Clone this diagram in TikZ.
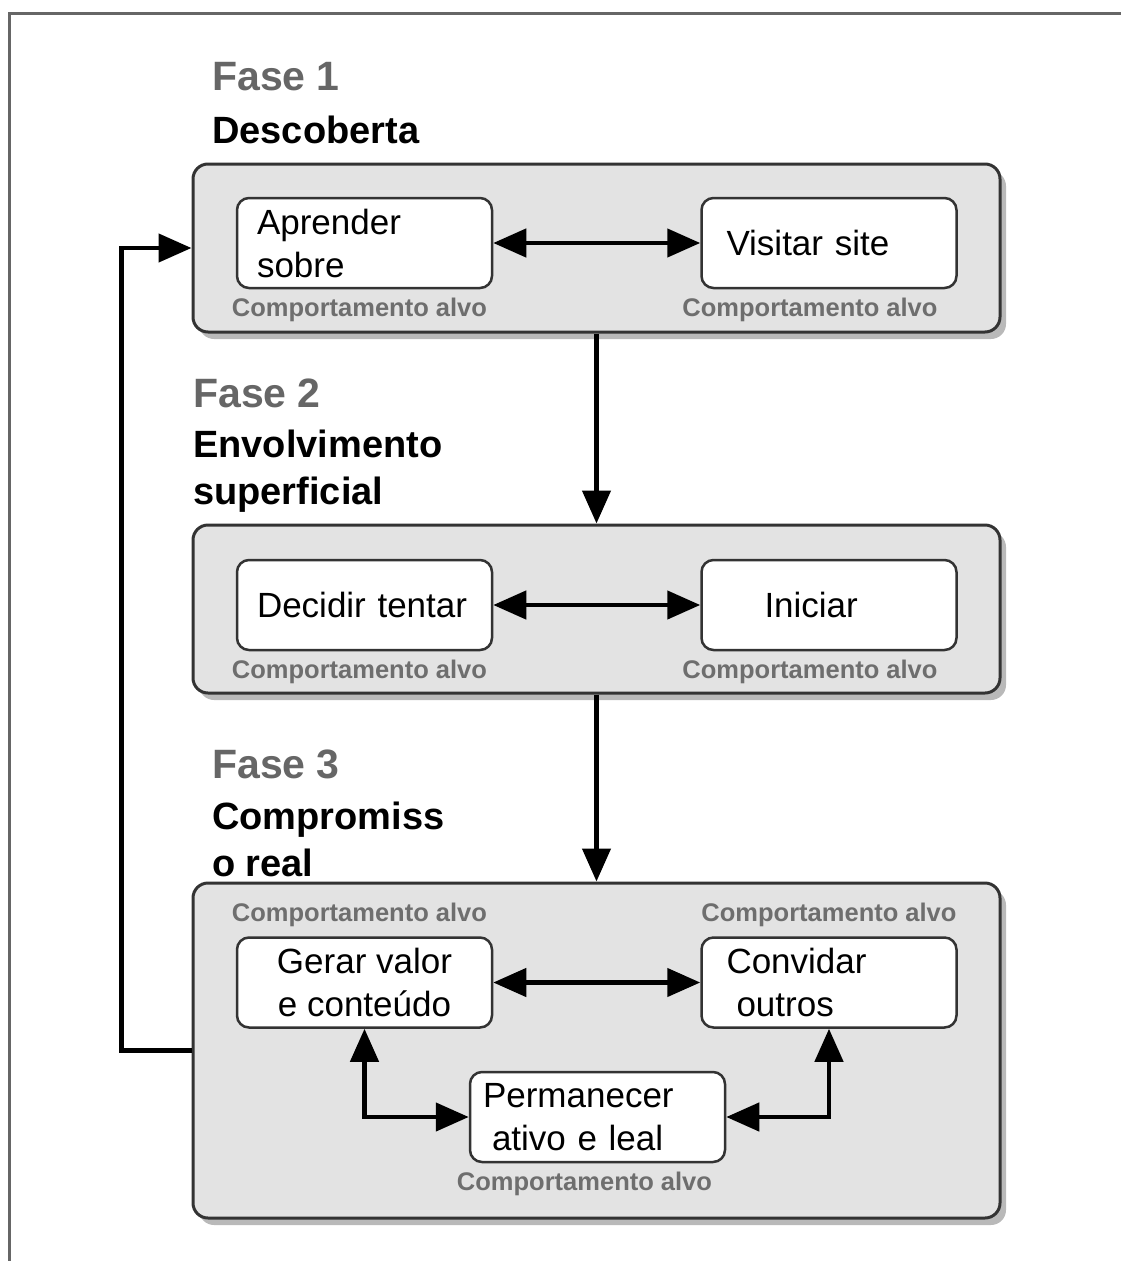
\documentclass[tikz,border=0pt]{standalone}
\usepackage{fontspec}
\setmainfont{Liberation Sans}
\usepackage{tikz}
\usetikzlibrary{shapes,arrows.meta,positioning,shadows}
\definecolor{cinzafase}{HTML}{666666}
\definecolor{cinzarotulo}{HTML}{6E6E6E}
\definecolor{fundoetapa}{HTML}{E3E3E3}
\definecolor{bordaetapa}{HTML}{333333}
\tikzstyle{etapa} = [draw=bordaetapa, fill=fundoetapa, line width=3pt, rounded corners=15pt, minimum width=807pt, drop shadow={shadow xshift=6pt, shadow yshift=-7pt, fill=black!50, opacity=.55}]
\tikzstyle{alvo} = [draw=bordaetapa, fill=white, line width=2.5pt, rounded corners=12pt, minimum width=255pt, minimum height=90pt, inner ysep=0pt, align=center, font=\fontsize{35}{43}\selectfont]
\tikzstyle{rotulo} = [text=cinzarotulo, inner sep=0pt, font=\bfseries\fontsize{25.5}{30}\selectfont]
\tikzstyle{fase} = [text=cinzafase, anchor=base west, inner sep=0pt, font=\bfseries\fontsize{41}{47}\selectfont]
\tikzstyle{titulo} = [anchor=base west, inner sep=0pt, align=left, font=\bfseries\fontsize{38}{47}\selectfont]
\tikzstyle{seta} = [line width=4.5pt, -{Triangle[length=33pt,width=28pt]}]
\tikzstyle{setadupla} = [line width=4.5pt, {Triangle[length=33pt,width=28pt]}-{Triangle[length=33pt,width=28pt]}]

\begin{document}
\begin{tikzpicture}[x=1pt,y=-1pt]
	\useasboundingbox (0,0) rectangle (1121,1261);
	\draw[cinzafase, line width=3pt] (1121,13) -- (9,13) -- (9,1261);

	\node[fase] (fase1) at (212,90) {Fase 1};
	\node[titulo] (titulo1) at (212,143) {Descoberta};
	\node[etapa, minimum height=168pt] (etapa1) at (596.5,248) {};
	\node[alvo, align=left, inner xsep=20pt, text width=215pt] (aprender) at (364.5,243) {Aprender\\sobre};
	\node[alvo, align=left, inner xsep=25pt, text width=205pt] (visitar) at (829,243) {Visitar site};
	\node[rotulo, below=9pt of aprender, xshift=-5pt] (rotulo1a) {Comportamento alvo};
	\node[rotulo, below=9pt of visitar, xshift=-19pt] (rotulo1b) {Comportamento alvo};

	\node[fase] (fase2) at (193,407) {Fase 2};
	\node[titulo] (titulo2) at (193,504) {Envolvimento\\superficial};
	\node[etapa, minimum height=168pt] (etapa2) at (596.5,609) {};
	\node[alvo, align=left, inner xsep=20pt, text width=215pt] (decidir) at (364.5,605) {Decidir tentar};
	\node[alvo, align=left, inner xsep=63pt, text width=129pt] (iniciar) at (829,605) {Iniciar};
	\node[rotulo, below=9pt of decidir, xshift=-5pt] (rotulo2a) {Comportamento alvo};
	\node[rotulo, below=9pt of iniciar, xshift=-19pt] (rotulo2b) {Comportamento alvo};

	\node[fase] (fase3) at (212,778) {Fase 3};
	\node[titulo] (titulo3) at (212,876) {Compromiss\\o real};
	\node[etapa, minimum height=335pt] (etapa3) at (596.5,1050.5) {};
	\node[alvo] (gerar) at (364.5,982.5) {Gerar valor\\e conteúdo};
	\node[alvo, align=left, inner xsep=25pt, text width=205pt] (convidar) at (829,982.5) {Convidar\\\hspace*{10pt}outros};
	\node[alvo, align=left, inner xsep=13pt, text width=229pt] (permanecer) at (597.5,1117) {Permanecer\\\hspace*{9pt}ativo e leal};
	\node[rotulo, above=9pt of gerar, xshift=-5pt] (rotulo3a) {Comportamento alvo};
	\node[rotulo, above=9pt of convidar] (rotulo3b) {Comportamento alvo};
	\node[rotulo, below=9pt of permanecer, xshift=-13pt] (rotulo3c) {Comportamento alvo};

	\draw[setadupla] (aprender) -- (visitar);
	\draw[setadupla] (decidir) -- (iniciar);
	\draw[setadupla] (gerar) -- (convidar);
	\draw[setadupla] (gerar.south) |- (permanecer.west);
	\draw[setadupla] (permanecer.east) -| (convidar.south);
	\draw[seta] (etapa1.south) -- (etapa2.north);
	\draw[seta] (etapa2.south) -- (etapa3.north);
	\draw[seta] (etapa3.west) -- ++(-70,0) |- (etapa1.west);
\end{tikzpicture}
\end{document}
